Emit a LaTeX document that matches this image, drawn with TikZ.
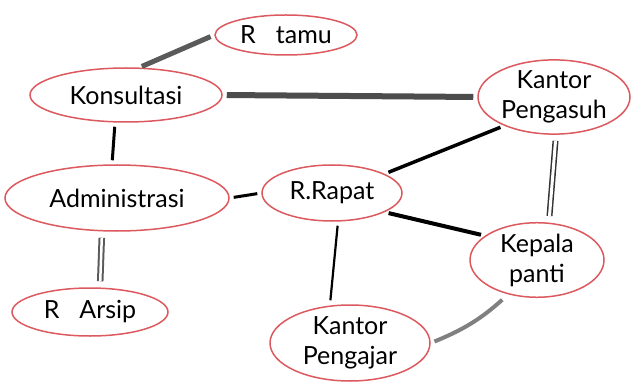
\documentclass[tikz,border=0pt]{standalone}
\usepackage{fontspec}
\setmainfont{Lato}
\usetikzlibrary{shapes.geometric}
\definecolor{ringred}{RGB}{220,90,95}
\definecolor{linegray}{RGB}{90,90,90}
\tikzset{
  room/.style={ellipse, draw=ringred, line width=1.5pt, inner sep=0pt, align=center,
    font=\fontsize{25}{30}\selectfont, text=black},
  thin link/.style={draw=black, line width=3pt, shorten >=4pt, shorten <=4pt},
  thick link/.style={draw=linegray, line width=5pt, shorten >=4pt, shorten <=4pt},
  double link/.style={draw=black!80, line width=1.5pt, double=white, double distance=3pt, shorten >=6pt, shorten <=6pt},
}
\begin{document}
\begin{tikzpicture}[x=1pt,y=-1pt]
\useasboundingbox (0,0) rectangle (636,387);
\fill[white] (0,0) rectangle (636,387);

\node[room, minimum width=142, minimum height=40] (tamu) at (286,35) {R\hspace{0.8em}tamu};
\node[room, minimum width=192, minimum height=54] (kons) at (126,95) {Konsultasi};
\node[room, minimum width=152, minimum height=74] (pengasuh) at (554,97) {Kantor\\Pengasuh};
\node[room, minimum width=224, minimum height=66] (admin) at (117,198) {Administrasi};
\node[room, minimum width=140, minimum height=56] (rapat) at (332,193) {R.Rapat};
\node[room, minimum width=134, minimum height=70] (kepala) at (537,260) {Kepala\\panti};
\node[room, minimum width=156, minimum height=48] (arsip) at (90,312) {R\hspace{0.8em}Arsip};
\node[room, minimum width=160, minimum height=76] (pengajar) at (350,343) {Kantor\\Pengajar};

\draw[thick link, shorten <=2pt] ([xshift=14pt]kons.north) -- (tamu.west);
\draw[thick link, draw=black!70, line width=6pt] (kons.east) -- (pengasuh.west);
\draw[thin link] ([xshift=-11pt]kons.south) -- ([xshift=-5pt]admin.north);
\draw[thin link] (admin.east) -- (rapat.west);
\draw[double link, draw=linegray, line width=2pt, double distance=2.5pt] ([xshift=-15pt]admin.south) -- ([xshift=10pt]arsip.north);
\draw[thin link, line width=3.5pt] (rapat.20) -- (pengasuh.210);
\draw[thin link, line width=4pt] (rapat.-20) -- (kepala.155);
\draw[thin link, line width=2.2pt] ([xshift=6pt]rapat.south) -- ([xshift=-20pt]pengajar.north);
\draw[double link] ([xshift=2pt]pengasuh.south) -- ([xshift=12pt]kepala.north);
\draw[thick link, draw=gray, line width=4pt, shorten <=8pt] (kepala.230) to[bend left=10] (pengajar.east);
\end{tikzpicture}
\end{document}
